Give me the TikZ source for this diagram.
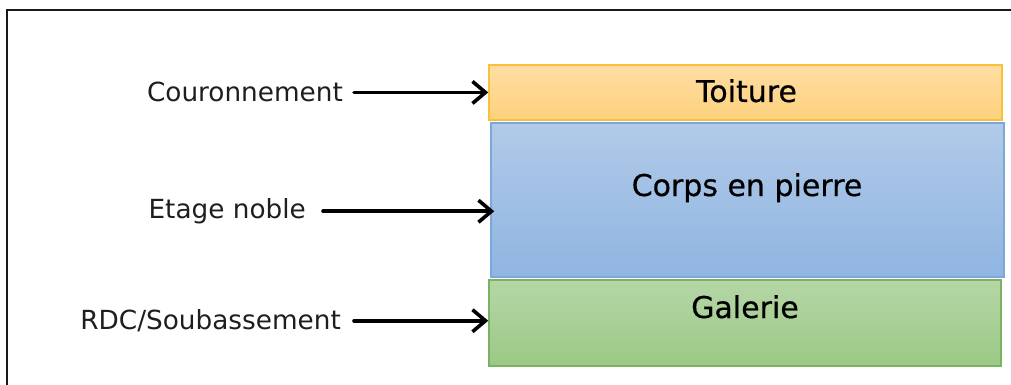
\documentclass[tikz,border=0pt]{standalone}
\usepackage{fontspec}
\newfontfamily\dvfont{DejaVu Sans}
\newfontfamily\dvboxfont[FakeBold=0.5]{DejaVu Sans}
\usetikzlibrary{arrows.meta}
\definecolor{orEdge}{HTML}{F8C13A}
\definecolor{orTop}{HTML}{FFDDA3}
\definecolor{orBot}{HTML}{FDD17C}
\definecolor{blEdge}{HTML}{7EA7D9}
\definecolor{blTop}{HTML}{B1CAE9}
\definecolor{blBot}{HTML}{8FB5E1}
\definecolor{grEdge}{HTML}{7BB262}
\definecolor{grTop}{HTML}{B5D6A6}
\definecolor{grBot}{HTML}{9BC985}
\definecolor{labcol}{HTML}{1E1E1E}
\tikzset{
  layerbox/.style={rectangle, line width=1.5pt, inner sep=0pt},
  boxtext/.style={font=\dvboxfont\fontsize{30}{36}\selectfont, text=black, inner sep=0pt},
  sidelabel/.style={font=\dvfont\fontsize{26.3}{31}\selectfont, text=labcol, inner ysep=2pt},
  arr/.style={line width=3.6pt, -{Straight Barb[length=13pt,width=22pt]}, line cap=round},
  frameline/.style={line width=2.4pt, draw=black!90}
}
\begin{document}
\begin{tikzpicture}[x=1pt,y=-1pt]
\useasboundingbox (0,0) rectangle (1011,385);
\coordinate (fA) at (7,385);
\coordinate (fB) at (7,10);
\coordinate (fC) at (1011,10);
\draw[frameline] (fA) -- (fB) -- (fC);

\node[layerbox, draw=orEdge, top color=orTop, bottom color=orBot, minimum width=513pt, minimum height=55pt] (toit) at (745.5,92.5) {};
\node[layerbox, draw=blEdge, top color=blTop, bottom color=blBot, minimum width=513pt, minimum height=154pt] (corps) at (747.5,200) {};
\node[layerbox, draw=grEdge, top color=grTop, bottom color=grBot, minimum width=512pt, minimum height=86pt] (gal) at (745,323) {};

\node[boxtext, anchor=base] (t1) at (746.5,102) {Toiture};
\node[boxtext, anchor=base] (t2) at (747,196) {Corps en pierre};
\node[boxtext, anchor=base] (t3) at (745,318) {Galerie};

\node[sidelabel, anchor=base east, inner xsep=11pt] (l1) at (354,102) {Couronnement};
\node[sidelabel, anchor=base east, inner xsep=17pt] (l2) at (323,218.5) {Etage noble};
\node[sidelabel, anchor=base east, inner xsep=13pt] (l3) at (354,329.5) {RDC/Soubassement};

\draw[arr] (l1.east) -- (l1.east -| toit.west);
\draw[arr, shorten >=-4pt] (l2.east) -- (l2.east -| corps.west);
\draw[arr] (l3.east) -- (l3.east -| gal.west);
\end{tikzpicture}
\end{document}
